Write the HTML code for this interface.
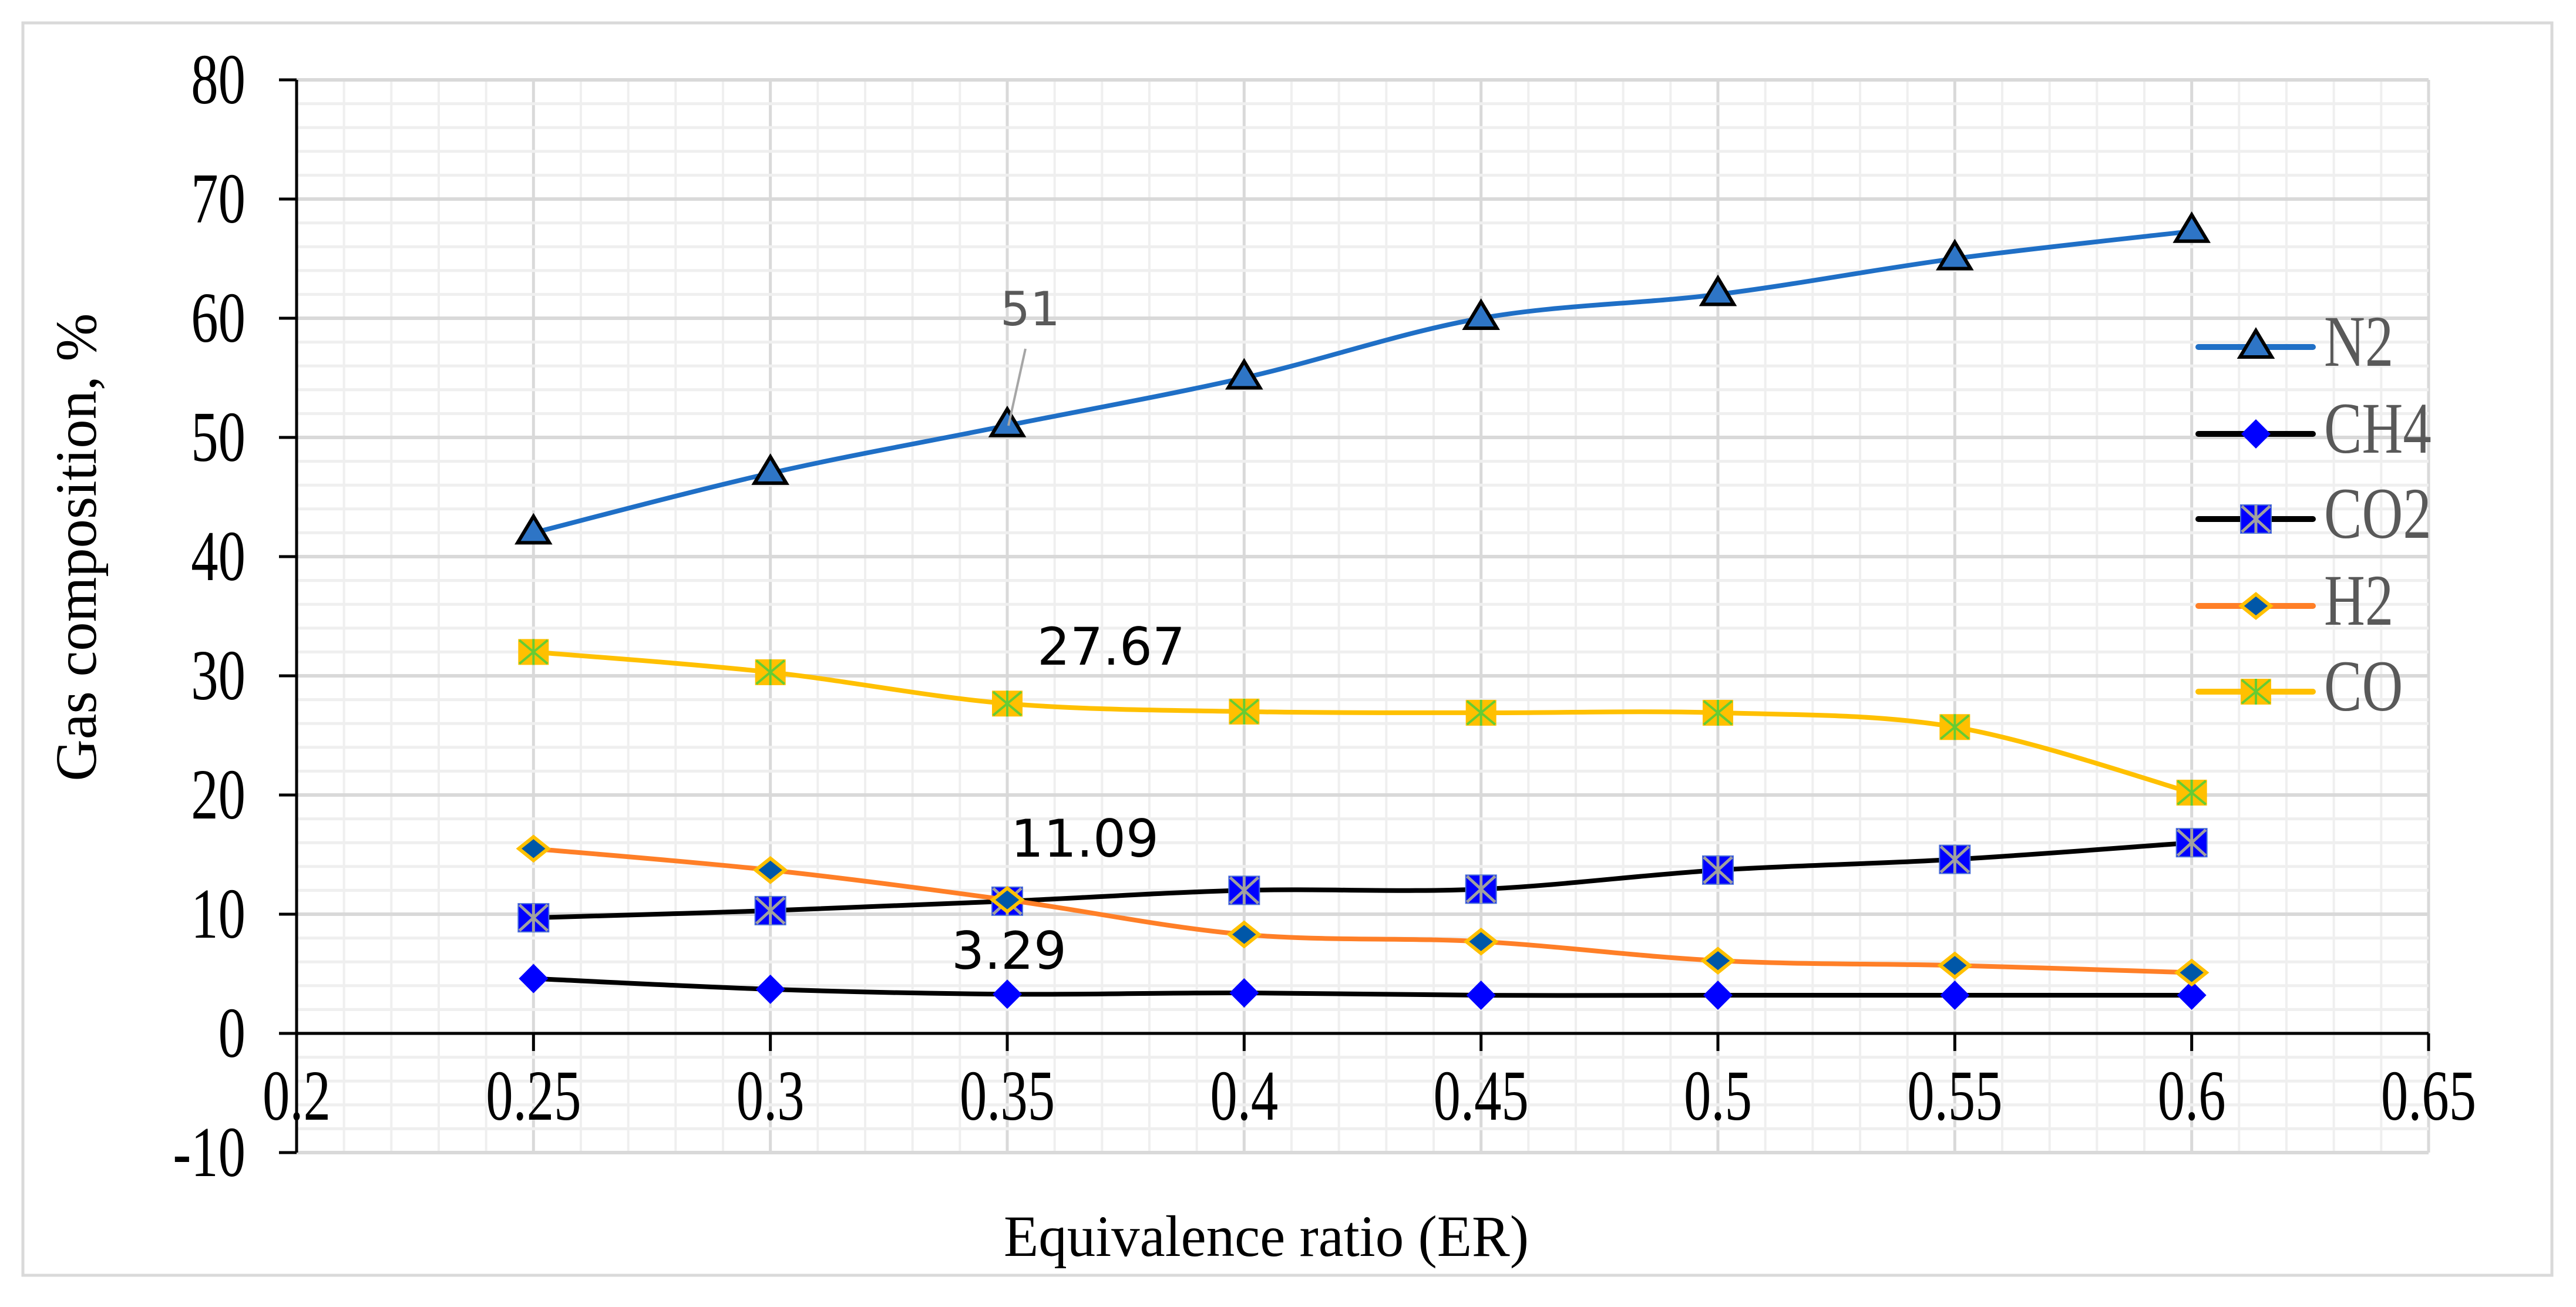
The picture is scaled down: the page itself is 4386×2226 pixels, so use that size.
<!DOCTYPE html>
<html><head><meta charset="utf-8"><style>
html,body{margin:0;padding:0;background:#fff}
svg{display:block}
</style></head><body>
<svg id="chart" xmlns="http://www.w3.org/2000/svg" width="4386" height="2226" viewBox="0 0 4386 2226">
<rect x="0" y="0" width="4386" height="2226" fill="#fff"/>
<rect x="39" y="39" width="4306" height="2133" fill="none" stroke="#d9d9d9" stroke-width="5"/>
<g id="grid"></g>
<g id="axes"></g>
<g id="series"></g>
<g id="labels"></g>
<g id="legend"></g>
<text transform="translate(163,932) rotate(-90)" text-anchor="middle" font-family="Liberation Serif, serif" font-size="100" textLength="797" lengthAdjust="spacingAndGlyphs" fill="#000">Gas composition, %</text>
<text x="2156" y="2139" text-anchor="middle" font-family="Liberation Serif, serif" font-size="100" textLength="894" lengthAdjust="spacingAndGlyphs" fill="#000">Equivalence ratio (ER)</text>
</svg>
<script>
const xValues = [0.25, 0.3, 0.35, 0.4, 0.45, 0.5, 0.55, 0.6];
const n2 = [42, 47, 51, 55, 60, 62, 65, 67.3];
const ch4 = [4.6, 3.7, 3.29, 3.4, 3.2, 3.2, 3.2, 3.2];
const co2 = [9.7, 10.3, 11.09, 12, 12.1, 13.7, 14.6, 16];
const h2 = [15.5, 13.7, 11.2, 8.3, 7.7, 6.1, 5.7, 5.1];
const co = [32, 30.3, 27.67, 27, 26.9, 26.9, 25.7, 20.2];
const xTicks = [0.2, 0.25, 0.3, 0.35, 0.4, 0.45, 0.5, 0.55, 0.6, 0.65];
const xTickLabels = ["0.2", "0.25", "0.3", "0.35", "0.4", "0.45", "0.5", "0.55", "0.6", "0.65"];
const yTicks = [-10, 0, 10, 20, 30, 40, 50, 60, 70, 80];
const seriesNames = ["N2", "CH4", "CO2", "H2", "CO"];

const NS = "http://www.w3.org/2000/svg";
const X0 = 505, X1 = 4135, Y0 = 1963, Y1 = 136;
function sx(v){ return X0 + (v - 0.2) / 0.45 * (X1 - X0); }
function sy(v){ return Y0 - (v + 10) / 90 * (Y0 - Y1); }
function mk(tag, attrs, parent){
  const e = document.createElementNS(NS, tag);
  for (const k in attrs) e.setAttribute(k, attrs[k]);
  parent.appendChild(e); return e;
}
const grid = document.getElementById('grid');
const axes = document.getElementById('axes');
const series = document.getElementById('series');
const labels = document.getElementById('labels');
const legend = document.getElementById('legend');

for (let i = 0; i <= 45; i++) {
  const v = 0.2 + i * 0.01;
  const l = mk('line', {x1: sx(v), x2: sx(v), y1: Y1, y2: Y0, stroke: i % 5 === 0 ? '#d9d9d9' : '#efefef', 'stroke-width': i % 5 === 0 ? 5 : 4}, grid);
  
  
}
for (let i = 0; i <= 45; i++) {
  const v = -10 + i * 2;
  const l = mk('line', {x1: X0, x2: X1, y1: sy(v), y2: sy(v), stroke: i % 5 === 0 ? '#d9d9d9' : '#efefef', 'stroke-width': i % 5 === 0 ? 6 : 5}, grid);
  
  
}
let a = mk('line', {x1: X0, x2: X0, y1: Y1, y2: Y0, stroke: '#000', 'stroke-width': 5}, axes);


a = mk('line', {x1: X0, x2: X1, y1: sy(0), y2: sy(0), stroke: '#000', 'stroke-width': 5}, axes);


yTicks.forEach(v => {
  const t = mk('line', {x1: X0 - 30, x2: X0, y1: sy(v), y2: sy(v), stroke: '#000', 'stroke-width': 5}, axes);
  
  
  const tx = mk('text', {x: 0, y: 0, transform: `translate(418,${sy(v) + 40}) scale(0.76,1)`, 'text-anchor': 'end', 'font-family': 'Liberation Serif, serif', 'font-size': 122, fill: '#000'}, axes);
  tx.textContent = String(v);
  
  
});
xTicks.forEach((v, i) => {
  if (i > 0) {
    const t = mk('line', {x1: sx(v), x2: sx(v), y1: sy(0), y2: sy(0) + 30, stroke: '#000', 'stroke-width': 5}, axes);
    
    
  }
  const tx = mk('text', {x: 0, y: 0, transform: `translate(${sx(v)},1907) scale(0.76,1)`, 'text-anchor': 'middle', 'font-family': 'Liberation Serif, serif', 'font-size': 122, fill: '#000'}, axes);
  tx.textContent = xTickLabels[i];
  
  
});

function smoothPath(pts){
  let d = 'M' + pts[0][0] + ',' + pts[0][1];
  for (let i = 0; i < pts.length - 1; i++) {
    const p0 = pts[i - 1] || pts[i], p1 = pts[i], p2 = pts[i + 1], p3 = pts[i + 2] || p2;
    const t = 0.5 / 3;
    const c1 = [p1[0] + (p2[0] - p0[0]) * t, p1[1] + (p2[1] - p0[1]) * t];
    const c2 = [p2[0] - (p3[0] - p1[0]) * t, p2[1] - (p3[1] - p1[1]) * t];
    d += ' C' + c1 + ' ' + c2 + ' ' + p2;
  }
  return d;
}
function marker(type, x, y, g){
  let m;
  if (type === 'tri') {
    m = mk('polygon', {points: `${x},${y-28} ${x+27},${y+17} ${x-27},${y+17}`, fill: '#2e75c6', stroke: '#000', 'stroke-width': 6}, g);
  } else if (type === 'dia') {
    m = mk('polygon', {points: `${x},${y-25} ${x+25},${y} ${x},${y+25} ${x-25},${y}`, fill: '#0000ff'}, g);
  } else if (type === 'sqx') {
    m = mk('g', {}, g);
    mk('rect', {x: x - 26, y: y - 24, width: 52, height: 48, fill: '#0000ff', stroke: '#4a6fd8', 'stroke-width': 2}, m);
    mk('path', {d: `M${x-24},${y-22}L${x+24},${y+22}M${x+24},${y-22}L${x-24},${y+22}M${x},${y-24}L${x},${y+24}`, stroke: '#a0a0a0', 'stroke-width': 5}, m);
  } else if (type === 'hdia') {
    m = mk('polygon', {points: `${x},${y-20} ${x+25},${y} ${x},${y+20} ${x-25},${y}`, fill: '#0057a8', stroke: '#ffc000', 'stroke-width': 6}, g);
  } else {
    m = mk('g', {}, g);
    mk('rect', {x: x - 26, y: y - 22, width: 52, height: 44, fill: '#ffc000'}, m);
    mk('path', {d: `M${x-24},${y-20}L${x+24},${y+20}M${x+24},${y-20}L${x-24},${y+20}M${x},${y-22}L${x},${y+22}`, stroke: '#66cc33', 'stroke-width': 4}, m);
  }
  return m;
}
const defs = [
  {name: 'n2', vals: n2, color: '#1f6fc6', mark: 'tri'},
  {name: 'ch4', vals: ch4, color: '#000000', mark: 'dia'},
  {name: 'co2', vals: co2, color: '#000000', mark: 'sqx'},
  {name: 'h2', vals: h2, color: '#ff7f27', mark: 'hdia'},
  {name: 'co', vals: co, color: '#ffc000', mark: 'sq'}
];
defs.forEach(s => {
  const g = mk('g', {}, series);
  
  
  const pts = xValues.map((x, i) => [sx(x), sy(s.vals[i])]);
  const p = mk('path', {d: smoothPath(pts), fill: 'none', stroke: s.color, 'stroke-width': 8}, g);
  
  
  pts.forEach(pt => {
    const m = marker(s.mark, pt[0], pt[1], g);
    
    
  });
});

const lead = mk('line', {x1: 1746, y1: 594, x2: 1717, y2: 725, stroke: '#a6a6a6', 'stroke-width': 4}, labels);


const dl = [
  {t: String(n2[2]), x: 1703, y: 554, size: 80, fill: '#595959', name: 'n2-data-label'},
  {t: String(co[2]), x: 1766, y: 1132, size: 88, fill: '#000', name: 'co-data-label'},
  {t: String(co2[2]), x: 1721, y: 1459, size: 88, fill: '#000', name: 'co2-data-label'},
  {t: String(ch4[2]), x: 1620, y: 1650, size: 88, fill: '#000', name: 'ch4-data-label'}
];
dl.forEach(d => {
  const t = mk('text', {x: d.x, y: d.y, 'font-family': 'DejaVu Sans, sans-serif', 'font-size': d.size, fill: d.fill}, labels);
  t.textContent = d.t;
  
  
});

const legY = [591, 739, 884, 1032, 1178];
defs.forEach((s, i) => {
  const g = mk('g', {}, legend);
  
  
  mk('line', {x1: 3743, x2: 3938, y1: legY[i], y2: legY[i], stroke: s.color, 'stroke-width': 10, 'stroke-linecap': 'round'}, g);
  marker(s.mark, 3841, legY[i], g);
  const t = mk('text', {x: 0, y: 0, transform: `translate(3957,${legY[i] + 32}) scale(0.78,1)`, 'font-family': 'Liberation Serif, serif', 'font-size': 124, fill: '#595959'}, g);
  t.textContent = seriesNames[i];
});
</script>
</body></html>
